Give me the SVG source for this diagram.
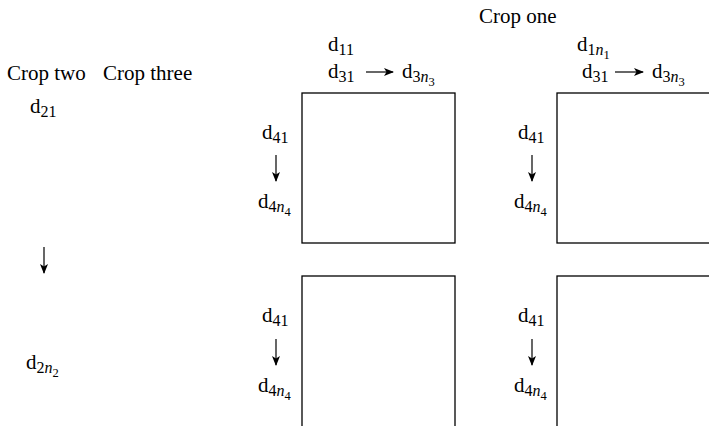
<svg xmlns="http://www.w3.org/2000/svg" width="709" height="426" viewBox="0 0 709 426">
<style>
.t{font-family:"Liberation Serif","Times New Roman",serif;font-size:21px;fill:#000}
.s{font-size:16px}
.ss{font-size:12.5px}
.i{font-style:italic}
.box{fill:none;stroke:#000;stroke-width:1.3}
.ar{stroke:#000;stroke-width:1.2;fill:none;marker-end:url(#ah)}
</style>
<defs>
<marker id="ah" markerWidth="10" markerHeight="8" refX="9" refY="4" orient="auto" markerUnits="userSpaceOnUse">
<path d="M0,0 L10,4 L0,8 L2.5,4 z" fill="#000"/>
</marker>
</defs>
<rect width="709" height="426" fill="#fff"/>
<g id="labels">
<text class="t" x="479" y="23">Crop one</text>
<text class="t" x="7" y="80">Crop two</text>
<text class="t" x="103" y="80">Crop three</text>
</g>
<g id="col-left">
<text class="t" x="30" y="113">d<tspan class="s" dy="4">21</tspan></text>
<text class="t" x="26" y="369">d<tspan class="s" dy="4">2<tspan class="i">n</tspan></tspan><tspan class="ss" dy="4">2</tspan></text>
</g>
<g id="box-top-left">
<rect class="box" x="302" y="93" width="153" height="150"/>
<text class="t" x="328" y="51">d<tspan class="s" dy="4">11</tspan></text>
<text class="t" x="328" y="78">d<tspan class="s" dy="4">31</tspan></text>
<text class="t" x="402" y="78">d<tspan class="s" dy="4">3<tspan class="i">n</tspan></tspan><tspan class="ss" dy="4">3</tspan></text>
<text class="t" x="262" y="139">d<tspan class="s" dy="4">41</tspan></text>
<text class="t" x="258" y="208">d<tspan class="s" dy="4">4<tspan class="i">n</tspan></tspan><tspan class="ss" dy="4">4</tspan></text>
</g>
<g id="box-top-right">
<rect class="box" x="557" y="93" width="170" height="150"/>
<text class="t" x="577" y="51">d<tspan class="s" dy="4">1<tspan class="i">n</tspan></tspan><tspan class="ss" dy="4">1</tspan></text>
<text class="t" x="582" y="78">d<tspan class="s" dy="4">31</tspan></text>
<text class="t" x="652" y="78">d<tspan class="s" dy="4">3<tspan class="i">n</tspan></tspan><tspan class="ss" dy="4">3</tspan></text>
<text class="t" x="518" y="139">d<tspan class="s" dy="4">41</tspan></text>
<text class="t" x="514" y="208">d<tspan class="s" dy="4">4<tspan class="i">n</tspan></tspan><tspan class="ss" dy="4">4</tspan></text>
</g>
<g id="box-bottom-left">
<rect class="box" x="302" y="276" width="153" height="170"/>
<text class="t" x="262" y="322">d<tspan class="s" dy="4">41</tspan></text>
<text class="t" x="258" y="392">d<tspan class="s" dy="4">4<tspan class="i">n</tspan></tspan><tspan class="ss" dy="4">4</tspan></text>
</g>
<g id="box-bottom-right">
<rect class="box" x="557" y="276" width="170" height="170"/>
<text class="t" x="518" y="322">d<tspan class="s" dy="4">41</tspan></text>
<text class="t" x="514" y="392">d<tspan class="s" dy="4">4<tspan class="i">n</tspan></tspan><tspan class="ss" dy="4">4</tspan></text>
</g>
<g id="connectors">
<line class="ar" x1="44" y1="247" x2="44" y2="273"/>
<line class="ar" x1="366" y1="72" x2="393" y2="72"/>
<line class="ar" x1="615" y1="72" x2="643" y2="72"/>
<line class="ar" x1="276" y1="155" x2="276" y2="181"/>
<line class="ar" x1="532" y1="155" x2="532" y2="181"/>
<line class="ar" x1="276" y1="339" x2="276" y2="365"/>
<line class="ar" x1="532" y1="339" x2="532" y2="365"/>
</g>
</svg>
